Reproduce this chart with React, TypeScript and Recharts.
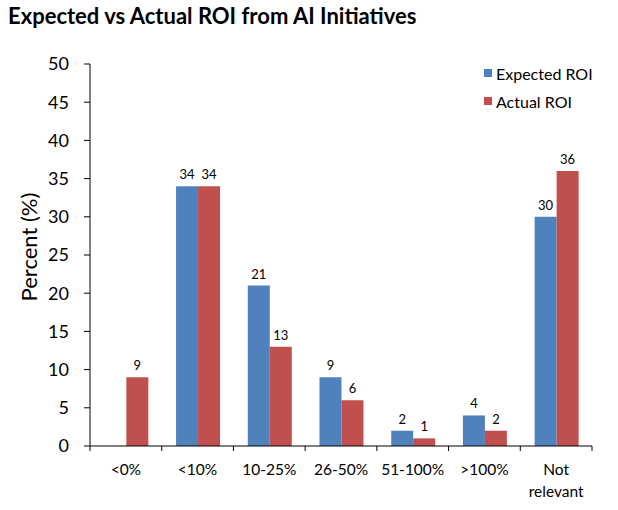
import React from 'react';
import { BarChart, Bar, XAxis, YAxis, LabelList, Label } from 'recharts';

const categories = ['<0%', '<10%', '10-25%', '26-50%', '51-100%', '>100%', 'Not relevant'];
const expectedROI: (number | null)[] = [null, 34, 21, 9, 2, 4, 30];
const actualROI: number[] = [9, 34, 13, 6, 1, 2, 36];
const yTicks = [0, 5, 10, 15, 20, 25, 30, 35, 40, 45, 50];

const data = categories.map((c, i) => ({ name: c, expected: expectedROI[i], actual: actualROI[i] }));

const FONT = 'Lato, "Open Sans", sans-serif';

const XTick = (props: any) => {
  const { x, y, payload, index, width } = props;
  const band = width / categories.length;
  const words = String(payload.value).split(' ');
  const last = index === categories.length - 1;
  return (
    <g>
      <line x1={x - band / 2} y1={y - 8} x2={x - band / 2} y2={y - 3} stroke="#000" />
      {last && <line x1={x + band / 2} y1={y - 8} x2={x + band / 2} y2={y - 3} stroke="#000" />}
      <text x={x} y={y + 21} textAnchor="middle" fontSize={15.5} fontFamily={FONT} fill="#000">
        {words.map((w: string, i: number) => (
          <tspan key={i} x={x} dy={i === 0 ? 0 : 22}>{w}</tspan>
        ))}
      </text>
    </g>
  );
};

const fmt = (v: any) => (v === null || v === undefined ? '' : v);

export default function App() {
  return (
    <div style={{ position: 'absolute', left: 0, top: 0, width: 618, height: 510, background: '#fff' }}>
      <div style={{ position: 'absolute', left: 8, top: 2, fontFamily: FONT, fontWeight: 700, fontSize: 22, color: '#000' }}>
        Expected vs Actual ROI from AI Initiatives
      </div>
      <div style={{ position: 'absolute', left: 484, top: 63, fontFamily: FONT, fontSize: 16, color: '#000' }}>
        <div style={{ display: 'flex', alignItems: 'center', height: 20 }}>
          <span style={{ width: 8, height: 8, background: '#4F81BD', display: 'inline-block', marginRight: 4 }} />
          Expected ROI
        </div>
        <div style={{ display: 'flex', alignItems: 'center', height: 20, marginTop: 8 }}>
          <span style={{ width: 8, height: 8, background: '#C0504D', display: 'inline-block', marginRight: 4 }} />
          Actual ROI
        </div>
      </div>
      <BarChart
        width={618}
        height={510}
        data={data}
        margin={{ top: 64, right: 26, left: 0, bottom: 0 }}
        barCategoryGap="20%"
        barGap={0}
      >
        <XAxis
          dataKey="name"
          height={64}
          axisLine={{ stroke: '#000' }}
          tickLine={false}
          tick={<XTick />}
          interval={0}
        />
        <YAxis
          width={90}
          domain={[0, 50]}
          ticks={yTicks}
          interval={0}
          axisLine={{ stroke: '#000' }}
          tickLine={{ stroke: '#000' }}
          tickSize={6}
          tickMargin={15}
          tick={{ fontSize: 18, fontFamily: FONT, fill: '#000' }}
        >
          <Label
            value="Percent (%)"
            angle={-90}
            position="insideLeft"
            offset={0}
            dx={29}
            dy={-8}
            style={{ fontSize: 22, fontFamily: FONT, fill: '#000', textAnchor: 'middle' }}
          />
        </YAxis>
        <Bar dataKey="expected" fill="#4F81BD" isAnimationActive={false}>
          <LabelList dataKey="expected" position="top" offset={7} formatter={fmt} style={{ fontSize: 13, fontFamily: FONT, fill: '#000' }} />
        </Bar>
        <Bar dataKey="actual" fill="#C0504D" isAnimationActive={false}>
          <LabelList dataKey="actual" position="top" offset={7} formatter={fmt} style={{ fontSize: 13, fontFamily: FONT, fill: '#000' }} />
        </Bar>
      </BarChart>
    </div>
  );
}
